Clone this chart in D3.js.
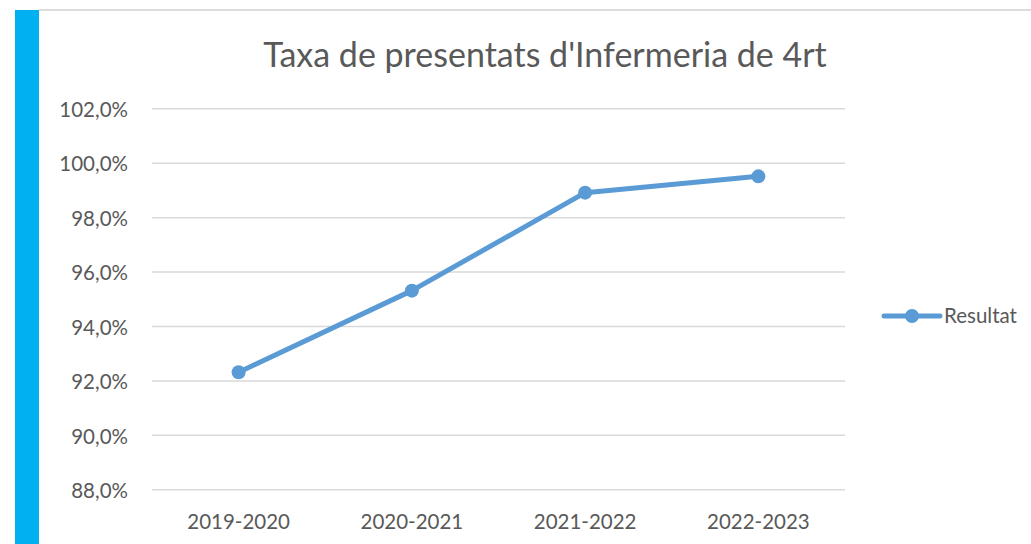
<!DOCTYPE html>
<meta charset="utf-8">
<style>
body {
  margin: 0;
  background: #fff;
}
svg text {
  font-family: Lato, "Open Sans", sans-serif;
}
.grid line {
  stroke: #d9d9d9;
  stroke-width: 1.5px;
}
.tick text {
  fill: #595959;
  font-size: 20.5px;
  font-family: Lato, "Open Sans", sans-serif;
}
.series {
  fill: none;
  stroke: #5b9bd5;
  stroke-width: 5px;
  stroke-linejoin: round;
}
.dot {
  fill: #5b9bd5;
}
</style>
<body>
<script src="https://cdn.jsdelivr.net/npm/d3@7"></script>
<script>
var width = 1031,
    height = 544;

var categories = ["2019-2020", "2020-2021", "2021-2022", "2022-2023"];
var values = [92.3, 95.3, 98.9, 99.5];
var yTicks = [88, 90, 92, 94, 96, 98, 100, 102];
var seriesName = "Resultat";
var title = "Taxa de presentats d'Infermeria de 4rt";

var margin = {left: 152, right: 186, top: 108.3, bottom: 54.7};

var svg = d3.select("body").append("svg")
    .attr("width", width)
    .attr("height", height);

// cyan side bar and top rule
svg.append("rect")
    .attr("x", 15).attr("y", 10)
    .attr("width", 24).attr("height", height - 10)
    .attr("fill", "#00b0f0");
svg.append("line")
    .attr("x1", 39).attr("x2", width)
    .attr("y1", 10).attr("y2", 10)
    .attr("stroke", "#dcdcdc").attr("stroke-width", 2);

var x = d3.scaleBand()
    .domain(categories)
    .range([margin.left, width - margin.right]);

var y = d3.scaleLinear()
    .domain([88, 102])
    .range([height - margin.bottom, margin.top]);

var fmt = function(d) { return d3.format(".1f")(d).replace(".", ",") + "%"; };

// gridlines + y labels
var yAxis = svg.append("g")
    .attr("class", "grid")
    .attr("transform", "translate(" + margin.left + ",0)")
    .call(d3.axisLeft(y)
      .tickValues(yTicks)
      .tickSize(-(width - margin.left - margin.right))
      .tickPadding(24)
      .tickFormat(fmt));
yAxis.attr("font-family", null);
yAxis.select(".domain").remove();
yAxis.selectAll(".tick text").attr("dy", "0.4em");

// x labels
var xAxis = svg.append("g")
    .attr("transform", "translate(0," + (height - margin.bottom) + ")")
    .call(d3.axisBottom(x).tickSize(0).tickPadding(25));
xAxis.attr("font-family", null);
xAxis.select(".domain").remove();

// series
var line = d3.line()
    .x(function(d, i) { return x(categories[i]) + x.bandwidth() / 2; })
    .y(function(d) { return y(d); });

svg.append("path")
    .datum(values)
    .attr("class", "series")
    .attr("d", line);

svg.selectAll(".dot")
    .data(values)
  .enter().append("circle")
    .attr("class", "dot")
    .attr("cx", function(d, i) { return x(categories[i]) + x.bandwidth() / 2; })
    .attr("cy", function(d) { return y(d); })
    .attr("r", 7);

// title
svg.append("text")
    .attr("x", 545)
    .attr("y", 67)
    .attr("text-anchor", "middle")
    .attr("fill", "#595959")
    .style("font-size", "34px")
    .text(title);

// legend
var legend = svg.append("g").attr("transform", "translate(884,316)");
legend.append("line")
    .attr("x1", 0).attr("x2", 56)
    .attr("stroke", "#5b9bd5").attr("stroke-width", 5)
    .attr("stroke-linecap", "round");
legend.append("circle")
    .attr("cx", 28).attr("r", 7).attr("fill", "#5b9bd5");
legend.append("text")
    .attr("x", 60).attr("y", 7)
    .attr("fill", "#595959")
    .style("font-size", "20.5px")
    .text(seriesName);
</script>
